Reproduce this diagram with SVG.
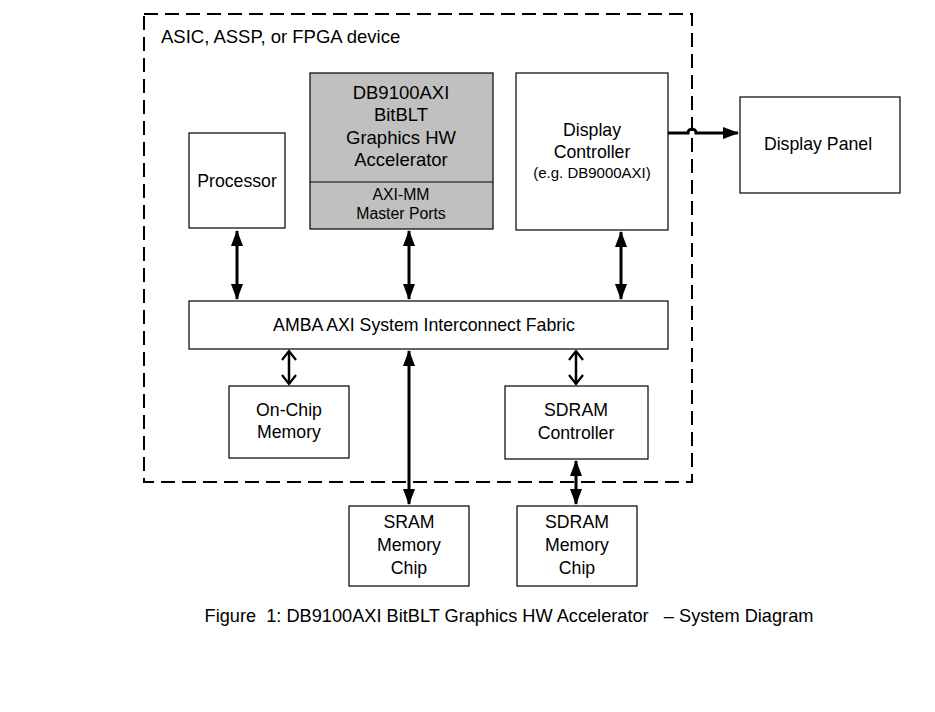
<svg xmlns="http://www.w3.org/2000/svg" width="935" height="712" viewBox="0 0 935 712">
<defs>
<style>
text{font-family:"Liberation Sans",Arial,sans-serif;fill:#000;text-anchor:middle}
.box{fill:#fff;stroke:#000;stroke-width:1.2}
.gray{fill:#c0c0c0;stroke:#000;stroke-width:1.2}
.t16{font-size:17.7px}
.t17{font-size:18.5px}
.t14{font-size:15.8px}
.t13{font-size:15px}
.c{fill:none;stroke:#000;stroke-width:3}
.c2{fill:none;stroke:#000;stroke-width:2.5}
</style>
<marker id="fa" markerUnits="userSpaceOnUse" markerWidth="16" markerHeight="12" viewBox="0 0 16 12" refX="15" refY="6" orient="auto-start-reverse">
<path d="M0,0 L16,6 L0,12 Z" fill="#000"/>
</marker>
<marker id="oa" markerUnits="userSpaceOnUse" markerWidth="12" markerHeight="16" viewBox="0 0 12 16" refX="10" refY="8" orient="auto-start-reverse">
<path d="M1,1 L10,8 L1,15" fill="none" stroke="#000" stroke-width="2.2"/>
</marker>
</defs>
<rect width="935" height="712" fill="#fff"/>
<g id="device">
<rect x="144" y="14" width="548" height="468" fill="none" stroke="#000" stroke-width="2" stroke-dasharray="14,7"/>
<text x="161" y="43" style="text-anchor:start;font-size:18.5px">ASIC, ASSP, or FPGA device</text>
</g>
<g id="connectors">
<line class="c" x1="237" y1="231" x2="237" y2="299" marker-start="url(#fa)" marker-end="url(#fa)"/>
<line class="c" x1="409" y1="231" x2="409" y2="299" marker-start="url(#fa)" marker-end="url(#fa)"/>
<line class="c" x1="621" y1="232" x2="621" y2="299" marker-start="url(#fa)" marker-end="url(#fa)"/>
<line class="c2" x1="289" y1="351" x2="289" y2="384" marker-start="url(#oa)" marker-end="url(#oa)"/>
<line class="c2" x1="576" y1="351" x2="576" y2="384" marker-start="url(#oa)" marker-end="url(#oa)"/>
<line class="c" x1="409" y1="351" x2="409" y2="504" marker-start="url(#fa)" marker-end="url(#fa)"/>
<line class="c" x1="576" y1="461" x2="576" y2="504" marker-start="url(#fa)" marker-end="url(#fa)"/>
<path class="c" d="M668,133 L688,133 A4,4 0 0 1 696,133 L738,133" marker-end="url(#fa)"/>
</g>
<g id="processor">
<rect class="box" x="189" y="133" width="96" height="95"/>
<text x="237" y="187" class="t16">Processor</text>
</g>
<g id="accelerator">
<rect class="gray" x="310" y="73" width="183" height="156"/>
<line x1="310" y1="182" x2="493" y2="182" stroke="#000" stroke-width="1.2"/>
<text x="401" y="99" class="t17">DB9100AXI</text>
<text x="401" y="121" class="t17">BitBLT</text>
<text x="401" y="144" class="t17">Graphics HW</text>
<text x="401" y="166" class="t17">Accelerator</text>
<text x="401" y="200" class="t14">AXI-MM</text>
<text x="401" y="219" class="t14">Master Ports</text>
</g>
<g id="display-controller">
<rect class="box" x="516" y="73" width="152" height="157"/>
<text x="592" y="136" class="t16">Display</text>
<text x="592" y="158" class="t16">Controller</text>
<text x="592" y="178" class="t13">(e.g. DB9000AXI)</text>
</g>
<g id="display-panel">
<rect class="box" x="740" y="97" width="160" height="96"/>
<text x="818" y="150" class="t16">Display Panel</text>
</g>
<g id="amba">
<rect class="box" x="189" y="301" width="479" height="48"/>
<text x="424" y="331" class="t16">AMBA AXI System Interconnect Fabric</text>
</g>
<g id="onchip-memory">
<rect class="box" x="229" y="386" width="120" height="72"/>
<text x="289" y="416" class="t16">On-Chip</text>
<text x="289" y="438" class="t16">Memory</text>
</g>
<g id="sdram-controller">
<rect class="box" x="505" y="386" width="143" height="73"/>
<text x="576" y="416" class="t16">SDRAM</text>
<text x="576" y="439" class="t16">Controller</text>
</g>
<g id="sram-chip">
<rect class="box" x="349" y="506" width="120" height="80"/>
<text x="409" y="528" class="t16">SRAM</text>
<text x="409" y="551" class="t16">Memory</text>
<text x="409" y="574" class="t16">Chip</text>
</g>
<g id="sdram-chip">
<rect class="box" x="517" y="506" width="120" height="80"/>
<text x="577" y="528" class="t16">SDRAM</text>
<text x="577" y="551" class="t16">Memory</text>
<text x="577" y="574" class="t16">Chip</text>
</g>
<text x="509" y="622" style="font-size:18.2px" xml:space="preserve">Figure  1: DB9100AXI BitBLT Graphics HW Accelerator   – System Diagram</text>
</svg>
